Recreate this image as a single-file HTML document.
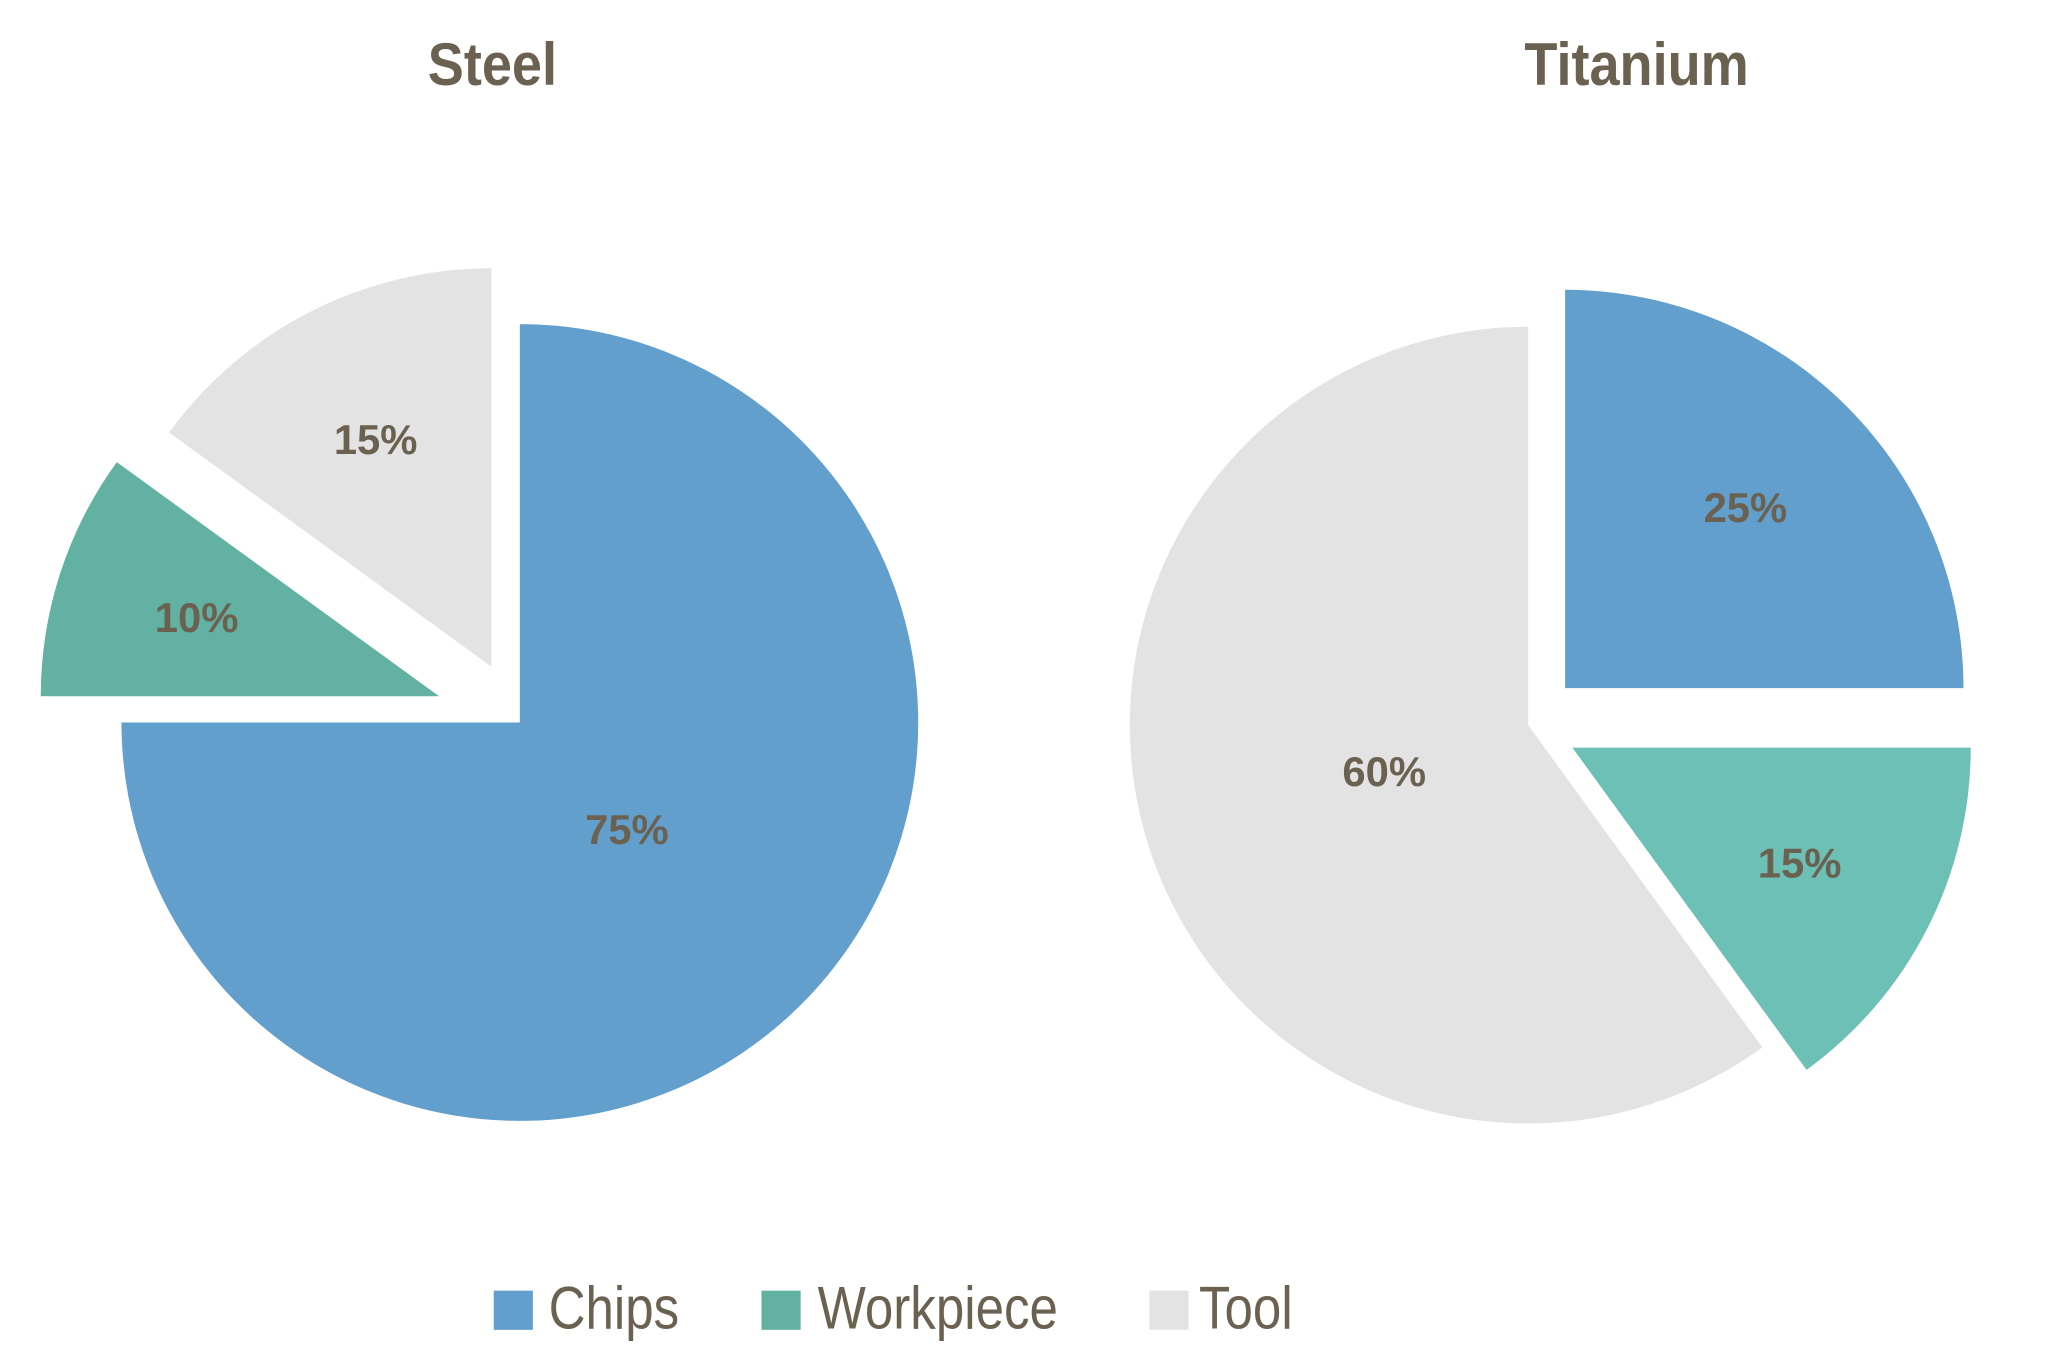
<!DOCTYPE html>
<html><head><meta charset="utf-8"><style>
html,body{margin:0;padding:0;background:#fff}
svg{display:block}
</style></head><body>
<svg id="chart" width="2048" height="1364" viewBox="0 0 1568 1044" xmlns="http://www.w3.org/2000/svg" font-family="'Liberation Sans', sans-serif">
<text x="377" y="65" text-anchor="middle" font-size="46" font-weight="bold" fill="#6b6150" transform="translate(377 0) scale(0.9 1) translate(-377 0)">Steel</text>
<text x="1253" y="65" text-anchor="middle" font-size="46" font-weight="bold" fill="#6b6150" transform="translate(1253 0) scale(0.9 1) translate(-1253 0)">Titanium</text>
<g id="pies"></g>
<g>
<rect x="378" y="988" width="30" height="30" fill="#629fcd"/>
<text x="420" y="1017" font-size="46" fill="#6b6150" transform="translate(420 0) scale(0.85 1) translate(-420 0)">Chips</text>
<rect x="583" y="988" width="30" height="30" fill="#63b1a3"/>
<text x="626" y="1017" font-size="46" fill="#6b6150" transform="translate(626 0) scale(0.85 1) translate(-626 0)">Workpiece</text>
<rect x="880" y="988" width="30" height="30" fill="#e3e3e3"/>
<text x="918" y="1017" font-size="46" fill="#6b6150" transform="translate(918 0) scale(0.85 1) translate(-918 0)">Tool</text>
</g>
</svg>
<script>
const categories = ["Chips", "Workpiece", "Tool"];
const steelValues = [75, 10, 15];
const titaniumValues = [25, 15, 60];
const colors = ["#629fcd", "#63b1a3", "#e3e3e3"];
const titaniumColors = ["#629fcd", "#6cc0b5", "#e3e3e3"];
const NS = "http://www.w3.org/2000/svg";
const R = 305;
function pt(cx, cy, r, deg){const a = deg*Math.PI/180; return [cx + r*Math.sin(a), cy - r*Math.cos(a)];}
function drawPie(name, values, cols, cx, cy, explode){
  const g = document.getElementById("pies");
  const total = values.reduce((a,b)=>a+b,0);
  let start = 0;
  values.forEach((v,i)=>{
    const sweep = v/total*360, end = start + sweep, mid = start + sweep/2;
    const off = explode[i];
    const [ox, oy] = pt(0, 0, off, mid);
    const x0 = cx + ox, y0 = cy + oy;
    const p1 = pt(x0, y0, R, start), p2 = pt(x0, y0, R, end);
    const path = document.createElementNS(NS, "path");
    path.setAttribute("d", `M${x0},${y0} L${p1[0]},${p1[1]} A${R},${R} 0 ${sweep>180?1:0} 1 ${p2[0]},${p2[1]} Z`);
    path.setAttribute("fill", cols[i]);
    
    
    g.appendChild(path);
    const k = v > 50 ? 0.38 : 0.64;
    const lp = pt(x0, y0, R*k, mid);
    const t = document.createElementNS(NS, "text");
    t.setAttribute("x", lp[0]); t.setAttribute("y", lp[1] + 11);
    t.setAttribute("text-anchor", "middle");
    t.setAttribute("font-size", "32"); t.setAttribute("font-weight", "bold");
    t.setAttribute("fill", "#6b6150");
    t.textContent = v + "%";
    
    
    g.appendChild(t);
    start = end;
  });
}
drawPie("steel", steelValues, colors, 398, 553, [0, 65, 48]);
drawPie("titanium", titaniumValues, titaniumColors, 1170, 555, [40, 38, 0]);
</script>
</body></html>
